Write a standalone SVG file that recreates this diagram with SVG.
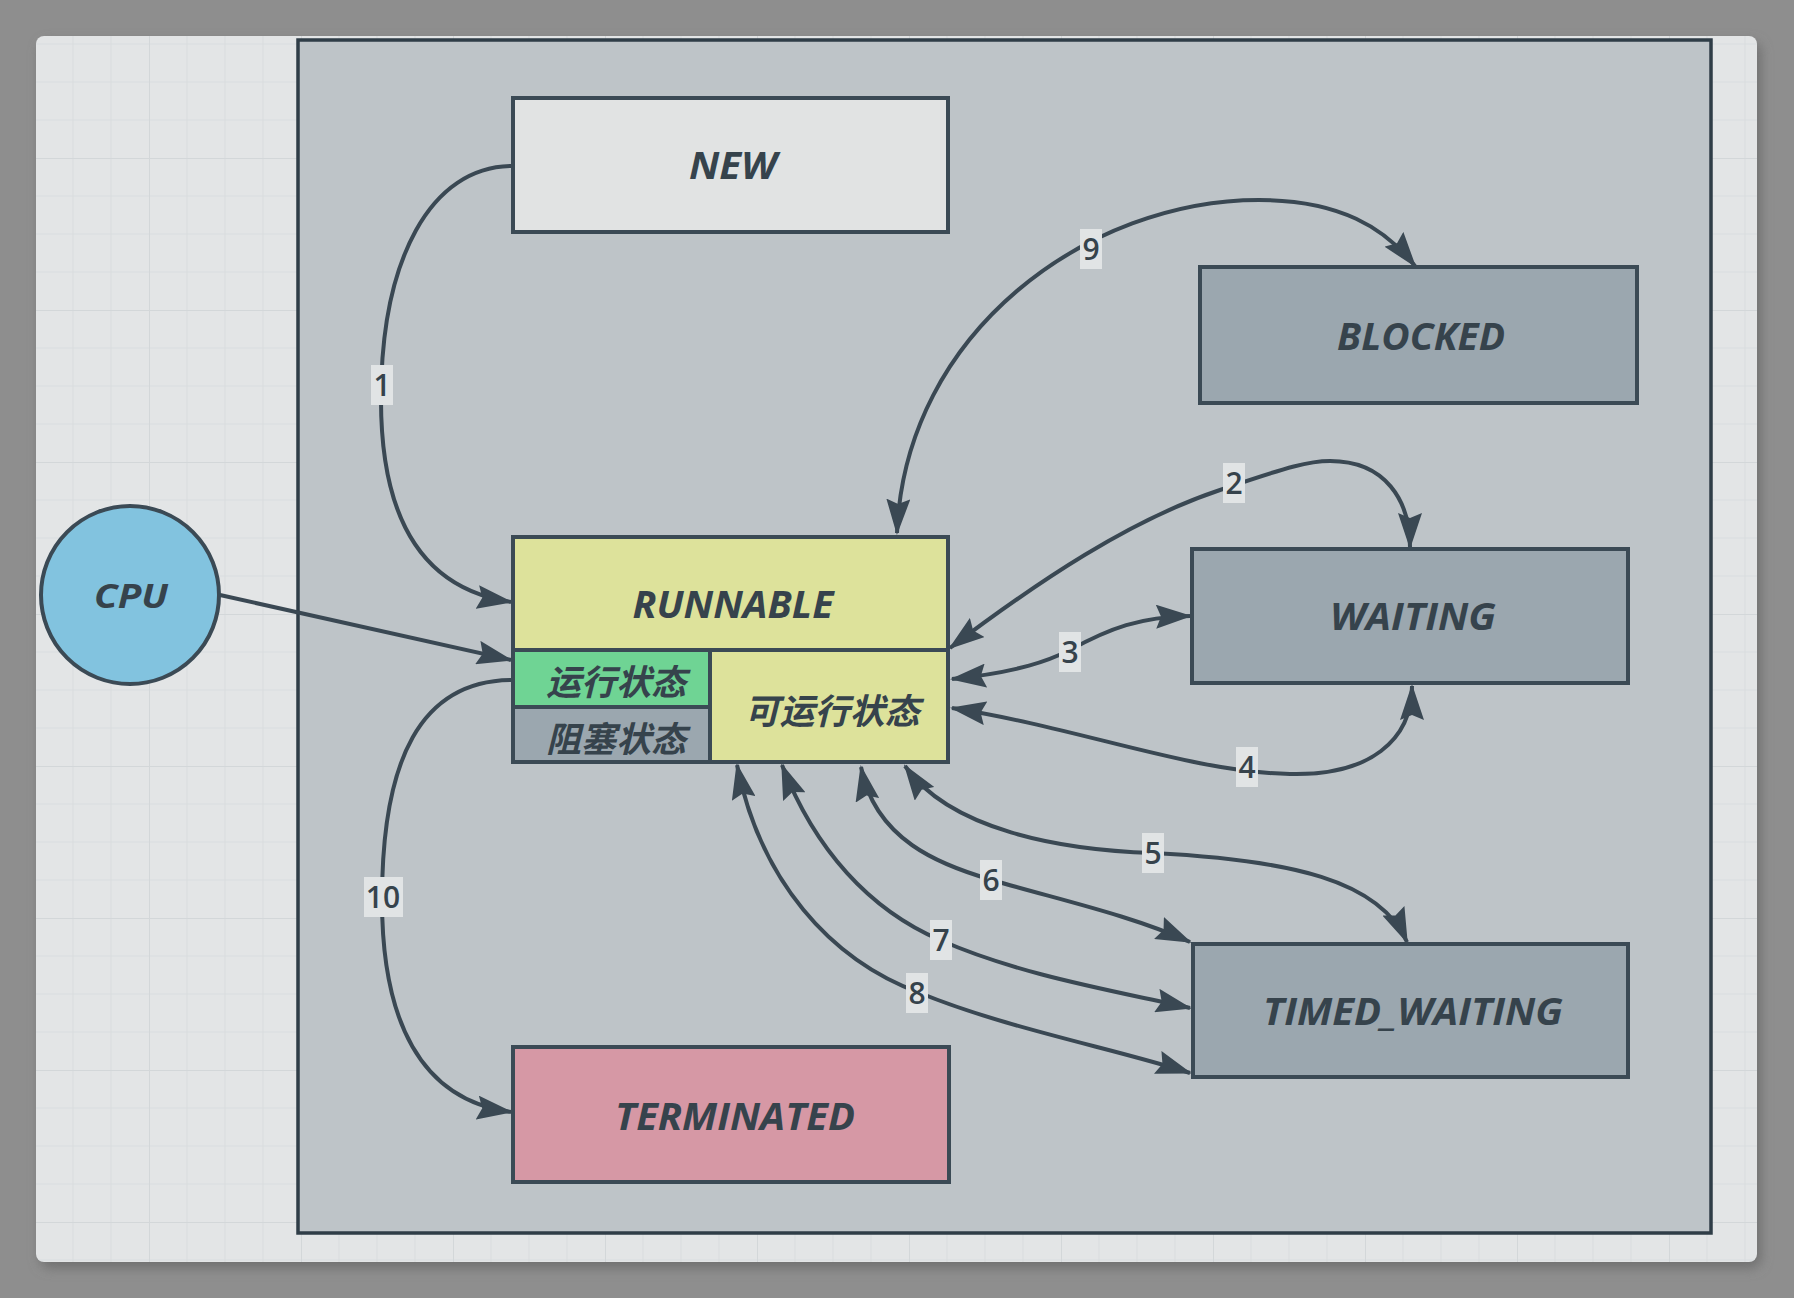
<svg xmlns="http://www.w3.org/2000/svg" width="1794" height="1298" viewBox="0 0 1794 1298">
  <style>
    .node { stroke: #3b4a55; stroke-width: 4; }
    .title { font-family: "Open Sans", "Liberation Sans", sans-serif; font-weight: bold; font-style: italic; font-size: 37px; fill: #36434c; text-anchor: middle; }
    .cjk { font-family: "Noto Sans CJK SC", "Noto Sans", sans-serif; font-weight: bold; font-style: italic; font-size: 35px; fill: #36434c; text-anchor: middle; }
    .edge { fill: none; stroke: #3a4853; stroke-width: 4; }
    .lbl rect { fill: #e1e4e5; }
    .lbl text { font-family: "Open Sans", "Liberation Sans", sans-serif; font-weight: 600; font-size: 30px; fill: #36434c; text-anchor: middle; }
  </style>
  <defs>
    <marker id="arr" viewBox="0 0 36 24" refX="34" refY="12" markerWidth="36" markerHeight="24" markerUnits="userSpaceOnUse" orient="auto-start-reverse">
      <path d="M0,0 L36,12 L0,24 L5,12 Z" fill="#3a4853"/>
    </marker>
    <pattern id="grid" patternUnits="userSpaceOnUse" x="149" y="158" width="152" height="152">
      <path d="M38,0 V152 M76,0 V152 M114,0 V152 M0,38 H152 M0,76 H152 M0,114 H152" stroke="#dadddf" stroke-width="1.2" fill="none"/>
      <path d="M0,0 V152 M0,0 H152" stroke="#d3d7d9" stroke-width="2" fill="none"/>
    </pattern>
    <filter id="shadow" x="-5%" y="-5%" width="110%" height="110%">
      <feGaussianBlur stdDeviation="6"/>
    </filter>
  </defs>

  <rect x="0" y="0" width="1794" height="1298" fill="#8e8e8e"/>
  <rect x="40" y="42" width="1721" height="1226" rx="10" fill="#6f6f6f" filter="url(#shadow)"/>
  <rect x="36" y="36" width="1721" height="1226" rx="8" fill="#e3e5e6"/>
  <rect x="36" y="36" width="1721" height="1226" rx="8" fill="url(#grid)"/>

  <g id="container">
    <rect x="298" y="40" width="1413" height="1193" fill="#bec4c8" stroke="#2f3d47" stroke-width="3.5"/>
  </g>

  <g id="connectors">
    <path class="edge" marker-end="url(#arr)" d="M513,166 C430,166 381,260 381,400 C381,530 430,590 511,602"/>
    <path class="edge" marker-end="url(#arr)" d="M220,595 L511,660"/>
    <path class="edge" marker-end="url(#arr)" d="M513,680 C420,680 382,760 382,900 C382,1020 420,1100 511,1112"/>
    <path class="edge" marker-start="url(#arr)" marker-end="url(#arr)" d="M897,533 C905,330 1090,200 1259,200 C1340,200 1385,228 1415,266"/>
    <path class="edge" marker-start="url(#arr)" marker-end="url(#arr)" d="M950,648 C1040,580 1130,520 1220,490 C1290,466 1310,461 1330,461 C1385,461 1410,500 1410,547"/>
    <path class="edge" marker-start="url(#arr)" marker-end="url(#arr)" d="M952,679 C1020,672 1050,660 1070,650 C1110,628 1140,617 1190,616"/>
    <path class="edge" marker-start="url(#arr)" marker-end="url(#arr)" d="M952,708 C1080,728 1190,772 1290,774 C1370,776 1412,740 1412,686"/>
    <path class="edge" marker-start="url(#arr)" marker-end="url(#arr)" d="M905,766 C950,830 1060,850 1153,853 C1290,860 1380,880 1407,942"/>
    <path class="edge" marker-start="url(#arr)" marker-end="url(#arr)" d="M861,767 C875,840 940,865 992,880 C1060,900 1130,915 1190,942"/>
    <path class="edge" marker-start="url(#arr)" marker-end="url(#arr)" d="M782,765 C815,850 870,910 940,940 C1020,975 1110,990 1190,1008"/>
    <path class="edge" marker-start="url(#arr)" marker-end="url(#arr)" d="M737,765 C760,880 830,960 920,993 C1005,1028 1120,1050 1190,1073"/>

    <g class="lbl"><rect x="371" y="365" width="22" height="40"/><text x="382" y="396">1</text></g>
    <g class="lbl"><rect x="1223" y="463" width="22" height="40"/><text x="1234" y="494">2</text></g>
    <g class="lbl"><rect x="1059" y="632" width="22" height="40"/><text x="1070" y="663">3</text></g>
    <g class="lbl"><rect x="1236" y="747" width="22" height="40"/><text x="1247" y="778">4</text></g>
    <g class="lbl"><rect x="1142" y="833" width="22" height="40"/><text x="1153" y="864">5</text></g>
    <g class="lbl"><rect x="980" y="860" width="22" height="40"/><text x="991" y="891">6</text></g>
    <g class="lbl"><rect x="930" y="920" width="22" height="40"/><text x="941" y="951">7</text></g>
    <g class="lbl"><rect x="906" y="973" width="22" height="40"/><text x="917" y="1004">8</text></g>
    <g class="lbl"><rect x="1080" y="229" width="22" height="40"/><text x="1091" y="260">9</text></g>
    <g class="lbl"><rect x="364" y="877" width="39" height="40"/><text x="383" y="908">10</text></g>
  </g>

  <g id="cpu">
    <circle cx="130" cy="595" r="89" fill="#82c3df" stroke="#3b4a55" stroke-width="4"/>
    <text class="title" x="131" y="608" style="font-size:34px" textLength="74" lengthAdjust="spacingAndGlyphs">CPU</text>
  </g>

  <g id="new">
    <rect class="node" x="513" y="98" width="435" height="134" fill="#e1e3e3"/>
    <text class="title" x="733" y="179" textLength="88" lengthAdjust="spacingAndGlyphs">NEW</text>
  </g>

  <g id="blocked">
    <rect class="node" x="1200" y="267" width="437" height="136" fill="#9ba7af"/>
    <text class="title" x="1421" y="350" textLength="168" lengthAdjust="spacingAndGlyphs">BLOCKED</text>
  </g>

  <g id="waiting">
    <rect class="node" x="1192" y="549" width="436" height="134" fill="#9ba7af"/>
    <text class="title" x="1413" y="630" textLength="166" lengthAdjust="spacingAndGlyphs">WAITING</text>
  </g>

  <g id="timed_waiting">
    <rect class="node" x="1193" y="944" width="435" height="133" fill="#9ba7af"/>
    <text class="title" x="1413" y="1025" textLength="300" lengthAdjust="spacingAndGlyphs">TIMED_WAITING</text>
  </g>

  <g id="terminated">
    <rect class="node" x="513" y="1047" width="436" height="135" fill="#d698a5"/>
    <text class="title" x="735" y="1130" textLength="240" lengthAdjust="spacingAndGlyphs">TERMINATED</text>
  </g>

  <g id="runnable">
    <rect class="node" x="513" y="537" width="435" height="113" fill="#dde29b"/>
    <text class="title" x="733" y="618" textLength="201" lengthAdjust="spacingAndGlyphs">RUNNABLE</text>
    <g id="running">
      <rect class="node" x="513" y="650" width="197" height="57" fill="#6fd494"/>
      <text class="cjk" x="616" y="695">运行状态</text>
    </g>
    <g id="blocked_sub">
      <rect class="node" x="513" y="707" width="197" height="55" fill="#9ba7af"/>
      <text class="cjk" x="616" y="752">阻塞状态</text>
    </g>
    <g id="ready">
      <rect class="node" x="710" y="650" width="238" height="112" fill="#dde29b"/>
      <text class="cjk" x="832" y="724">可运行状态</text>
    </g>
  </g>
</svg>
